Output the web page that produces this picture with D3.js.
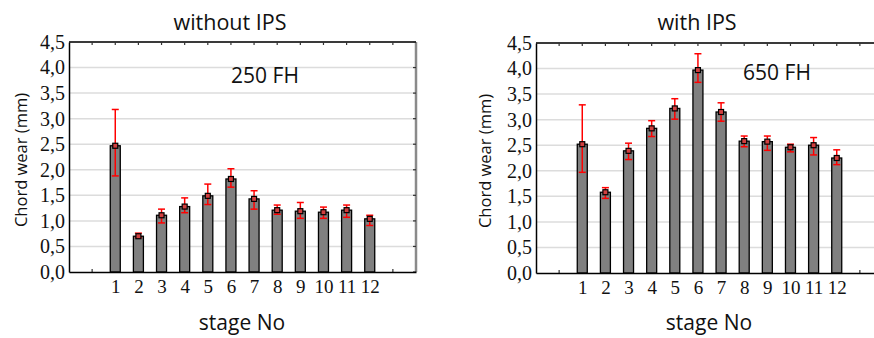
<!DOCTYPE html>
<html>
<head>
<meta charset="utf-8">
<script src="https://cdn.jsdelivr.net/npm/d3@7"></script>
<style>
  body { margin: 0; background: #fff; overflow: hidden; }
  svg { display: block; }
</style>
</head>
<body>
<div id="chart"></div>
<script>
// data
var stages = [1, 2, 3, 4, 5, 6, 7, 8, 9, 10, 11, 12];
var yTicks = [0, 0.5, 1, 1.5, 2, 2.5, 3, 3.5, 4, 4.5];

var withoutMean = [2.47, 0.70, 1.11, 1.28, 1.49, 1.82, 1.43, 1.21, 1.19, 1.17, 1.21, 1.04];
var withoutLow  = [1.88, 0.67, 0.96, 1.16, 1.32, 1.66, 1.23, 1.13, 1.05, 1.05, 1.07, 0.91];
var withoutHigh = [3.18, 0.76, 1.23, 1.45, 1.72, 2.02, 1.59, 1.31, 1.36, 1.27, 1.31, 1.11];

var withMean = [2.52, 1.58, 2.39, 2.83, 3.22, 3.97, 3.15, 2.58, 2.57, 2.46, 2.50, 2.25];
var withLow  = [1.97, 1.46, 2.22, 2.67, 3.01, 3.73, 2.97, 2.47, 2.40, 2.37, 2.31, 2.12];
var withHigh = [3.29, 1.67, 2.54, 2.98, 3.41, 4.29, 3.33, 2.68, 2.68, 2.52, 2.65, 2.41];

var W = 874, H = 338;
var svg = d3.select('#chart').append('svg')
    .attr('width', W)
    .attr('height', H);

var fmt = function(d) { return d3.format('.1f')(d).replace('.', ','); };
var serif = '"Liberation Serif", "Times New Roman", serif';
var sans = '"Open Sans", "Noto Sans", sans-serif';

var drawPanel = function(opt) {
  var x = d3.scaleLinear().domain([-1, 14]).range([opt.left, opt.left + 347]);
  var y = d3.scaleLinear().domain([0, 4.5]).range([opt.bottom, opt.bottom - 230]);
  var g = svg.append('g');
  var x0 = x.range()[0], x1 = x.range()[1];
  var rows = stages.map(function(s, i) {
    return {stage: s, mean: opt.mean[i], low: opt.low[i], high: opt.high[i]};
  });

  // grid lines
  g.selectAll('.grid')
      .data(yTicks.slice(1))
      .enter().append('line')
      .attr('x1', x0).attr('x2', x1)
      .attr('y1', function(d) { return y(d); })
      .attr('y2', function(d) { return y(d); })
      .attr('stroke', '#dcdcdc')
      .attr('stroke-width', 1.5);

  // right border (gray) and top border
  g.append('line')
      .attr('x1', x1).attr('x2', x1)
      .attr('y1', y(4.5)).attr('y2', y(0))
      .attr('stroke', '#8a8a8a').attr('stroke-width', 2.5);
  g.append('line')
      .attr('x1', x0).attr('x2', x1)
      .attr('y1', y(4.5)).attr('y2', y(4.5))
      .attr('stroke', '#000').attr('stroke-width', 1.5);

  // small inner ticks on top / bottom / right
  var xt = d3.range(0, 14);
  g.selectAll('.tt')
      .data(xt)
      .enter().append('line')
      .attr('x1', function(d) { return x(d); })
      .attr('x2', function(d) { return x(d); })
      .attr('y1', y(4.5)).attr('y2', y(4.5) + 3)
      .attr('stroke', '#333').attr('stroke-width', 1.2);
  g.selectAll('.bt')
      .data(xt)
      .enter().append('line')
      .attr('x1', function(d) { return x(d); })
      .attr('x2', function(d) { return x(d); })
      .attr('y1', y(0)).attr('y2', y(0) - 3)
      .attr('stroke', '#333').attr('stroke-width', 1.2);
  g.selectAll('.rt')
      .data(yTicks)
      .enter().append('line')
      .attr('x1', x1 - 3).attr('x2', x1)
      .attr('y1', function(d) { return y(d); })
      .attr('y2', function(d) { return y(d); })
      .attr('stroke', '#333').attr('stroke-width', 1.2);

  // bars
  g.selectAll('.bar')
      .data(rows)
      .enter().append('rect')
      .attr('x', function(d) { return x(d.stage) - 5; })
      .attr('width', 10)
      .attr('y', function(d) { return y(d.mean); })
      .attr('height', function(d) { return y(0) - y(d.mean); })
      .attr('fill', '#808080')
      .attr('stroke', '#000')
      .attr('stroke-width', 1.3);

  // error bars
  g.selectAll('.err')
      .data(rows)
      .enter().append('line')
      .attr('x1', function(d) { return x(d.stage); })
      .attr('x2', function(d) { return x(d.stage); })
      .attr('y1', function(d) { return y(d.low); })
      .attr('y2', function(d) { return y(d.high); })
      .attr('stroke', '#ff0000').attr('stroke-width', 1.5);
  ['low', 'high'].forEach(function(k) {
    g.selectAll('.cap-' + k)
        .data(rows)
        .enter().append('line')
        .attr('x1', function(d) { return x(d.stage) - 3.5; })
        .attr('x2', function(d) { return x(d.stage) + 3.5; })
        .attr('y1', function(d) { return y(d[k]); })
        .attr('y2', function(d) { return y(d[k]); })
        .attr('stroke', '#ff0000').attr('stroke-width', 1.5);
  });

  // mean markers
  g.selectAll('.mk')
      .data(rows)
      .enter().append('rect')
      .attr('x', function(d) { return x(d.stage) - 2.5; })
      .attr('y', function(d) { return y(d.mean) - 2.5; })
      .attr('width', 5).attr('height', 5)
      .attr('fill', '#d04040')
      .attr('stroke', '#000')
      .attr('stroke-width', 1.2);

  // left axis
  g.append('g')
      .attr('transform', 'translate(' + x0 + ',0)')
      .call(d3.axisLeft(y).tickValues(yTicks).tickFormat(fmt).tickSize(0).tickPadding(4))
      .call(function(a) {
        a.select('.domain').attr('stroke', '#000').attr('stroke-width', 1.5);
        a.selectAll('text')
            .attr('font-family', serif)
            .attr('font-size', '20px')
            .attr('fill', '#111');
      });

  // bottom axis
  g.append('g')
      .attr('transform', 'translate(0,' + y(0) + ')')
      .call(d3.axisBottom(x).tickValues(stages).tickFormat(d3.format('d')).tickSize(0).tickPadding(8))
      .call(function(a) {
        a.select('.domain').attr('stroke', '#000').attr('stroke-width', 1.5);
        a.selectAll('text')
            .attr('font-family', serif)
            .attr('font-size', '19px')
            .attr('fill', '#111');
      });

  // texts
  svg.append('text')
      .attr('x', opt.titleX).attr('y', 30)
      .attr('text-anchor', 'middle')
      .attr('font-family', sans).attr('font-size', '21.5px').attr('fill', '#111')
      .text(opt.title);
  svg.append('text')
      .attr('x', opt.noteX).attr('y', opt.noteY)
      .attr('text-anchor', 'middle')
      .attr('font-family', sans).attr('font-size', '21px').attr('fill', '#111')
      .text(opt.note);
  svg.append('text')
      .attr('x', opt.titleX + 12).attr('y', 330)
      .attr('text-anchor', 'middle')
      .attr('font-family', sans).attr('font-size', '21px').attr('fill', '#111')
      .text('stage No');
  svg.append('text')
      .attr('transform', 'translate(' + opt.yTitleX + ',' + (y(2.25) + 3) + ') rotate(-90)')
      .attr('text-anchor', 'middle')
      .attr('font-family', sans).attr('font-size', '16.5px').attr('fill', '#111')
      .text('Chord wear (mm)');
};

drawPanel({
  left: 69, bottom: 272,
  mean: withoutMean, low: withoutLow, high: withoutHigh,
  title: 'without IPS', titleX: 230,
  note: '250 FH', noteX: 265, noteY: 83,
  yTitleX: 27
});

drawPanel({
  left: 536, bottom: 273,
  mean: withMean, low: withLow, high: withHigh,
  title: 'with IPS', titleX: 697,
  note: '650 FH', noteX: 777, noteY: 80,
  yTitleX: 491
});
</script>
</body>
</html>
